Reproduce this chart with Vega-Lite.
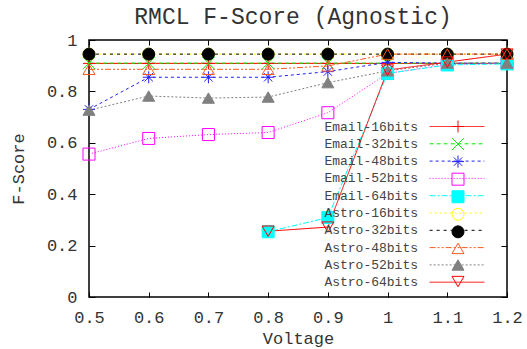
{
  "$schema": "https://vega.github.io/schema/vega-lite/v6.json",
  "width": 418,
  "height": 257,
  "autosize": "none",
  "padding": {"left": 89, "top": 40, "right": 20, "bottom": 52},
  "background": "white",
  "title": {"text": "RMCL F-Score (Agnostic)", "font": "Liberation Mono", "fontSize": 23, "fontWeight": "normal", "color": "#333333", "offset": 2, "anchor": "middle", "frame": "group", "dx": -5},
  "config": {"view": {"stroke": "#000000", "strokeWidth": 1.5}, "font": "Liberation Mono"},
  "data": {"values": [
    {"s": "Email-16bits", "v": 0.5, "f": 0.909}, {"s": "Email-16bits", "v": 0.6, "f": 0.909}, {"s": "Email-16bits", "v": 0.7, "f": 0.909}, {"s": "Email-16bits", "v": 0.8, "f": 0.909}, {"s": "Email-16bits", "v": 0.9, "f": 0.909}, {"s": "Email-16bits", "v": 1.0, "f": 0.909}, {"s": "Email-16bits", "v": 1.1, "f": 0.909}, {"s": "Email-16bits", "v": 1.2, "f": 0.909},
    {"s": "Email-32bits", "v": 0.5, "f": 0.91}, {"s": "Email-32bits", "v": 0.6, "f": 0.91}, {"s": "Email-32bits", "v": 0.7, "f": 0.91}, {"s": "Email-32bits", "v": 0.8, "f": 0.91}, {"s": "Email-32bits", "v": 0.9, "f": 0.91}, {"s": "Email-32bits", "v": 1.0, "f": 0.91}, {"s": "Email-32bits", "v": 1.1, "f": 0.91}, {"s": "Email-32bits", "v": 1.2, "f": 0.91},
    {"s": "Email-48bits", "v": 0.5, "f": 0.73}, {"s": "Email-48bits", "v": 0.6, "f": 0.855}, {"s": "Email-48bits", "v": 0.7, "f": 0.855}, {"s": "Email-48bits", "v": 0.8, "f": 0.855}, {"s": "Email-48bits", "v": 0.9, "f": 0.877}, {"s": "Email-48bits", "v": 1.0, "f": 0.913}, {"s": "Email-48bits", "v": 1.1, "f": 0.91}, {"s": "Email-48bits", "v": 1.2, "f": 0.91},
    {"s": "Email-52bits", "v": 0.5, "f": 0.556}, {"s": "Email-52bits", "v": 0.6, "f": 0.617}, {"s": "Email-52bits", "v": 0.7, "f": 0.632}, {"s": "Email-52bits", "v": 0.8, "f": 0.64}, {"s": "Email-52bits", "v": 0.9, "f": 0.717}, {"s": "Email-52bits", "v": 1.0, "f": 0.87}, {"s": "Email-52bits", "v": 1.1, "f": 0.905}, {"s": "Email-52bits", "v": 1.2, "f": 0.91},
    {"s": "Email-64bits", "v": 0.8, "f": 0.254}, {"s": "Email-64bits", "v": 0.9, "f": 0.309}, {"s": "Email-64bits", "v": 1.0, "f": 0.87}, {"s": "Email-64bits", "v": 1.1, "f": 0.903}, {"s": "Email-64bits", "v": 1.2, "f": 0.907},
    {"s": "Astro-16bits", "v": 0.5, "f": 0.945}, {"s": "Astro-16bits", "v": 0.6, "f": 0.945}, {"s": "Astro-16bits", "v": 0.7, "f": 0.945}, {"s": "Astro-16bits", "v": 0.8, "f": 0.945}, {"s": "Astro-16bits", "v": 0.9, "f": 0.945}, {"s": "Astro-16bits", "v": 1.0, "f": 0.945}, {"s": "Astro-16bits", "v": 1.1, "f": 0.945}, {"s": "Astro-16bits", "v": 1.2, "f": 0.945},
    {"s": "Astro-32bits", "v": 0.5, "f": 0.945}, {"s": "Astro-32bits", "v": 0.6, "f": 0.945}, {"s": "Astro-32bits", "v": 0.7, "f": 0.945}, {"s": "Astro-32bits", "v": 0.8, "f": 0.945}, {"s": "Astro-32bits", "v": 0.9, "f": 0.945}, {"s": "Astro-32bits", "v": 1.0, "f": 0.945}, {"s": "Astro-32bits", "v": 1.1, "f": 0.945}, {"s": "Astro-32bits", "v": 1.2, "f": 0.945},
    {"s": "Astro-48bits", "v": 0.5, "f": 0.886}, {"s": "Astro-48bits", "v": 0.6, "f": 0.886}, {"s": "Astro-48bits", "v": 0.7, "f": 0.886}, {"s": "Astro-48bits", "v": 0.8, "f": 0.886}, {"s": "Astro-48bits", "v": 0.9, "f": 0.899}, {"s": "Astro-48bits", "v": 1.0, "f": 0.945}, {"s": "Astro-48bits", "v": 1.1, "f": 0.945}, {"s": "Astro-48bits", "v": 1.2, "f": 0.945},
    {"s": "Astro-52bits", "v": 0.5, "f": 0.727}, {"s": "Astro-52bits", "v": 0.6, "f": 0.782}, {"s": "Astro-52bits", "v": 0.7, "f": 0.774}, {"s": "Astro-52bits", "v": 0.8, "f": 0.778}, {"s": "Astro-52bits", "v": 0.9, "f": 0.834}, {"s": "Astro-52bits", "v": 1.0, "f": 0.88}, {"s": "Astro-52bits", "v": 1.1, "f": 0.91}, {"s": "Astro-52bits", "v": 1.2, "f": 0.91},
    {"s": "Astro-64bits", "v": 0.8, "f": 0.256}, {"s": "Astro-64bits", "v": 0.9, "f": 0.272}, {"s": "Astro-64bits", "v": 1.0, "f": 0.883}, {"s": "Astro-64bits", "v": 1.1, "f": 0.914}, {"s": "Astro-64bits", "v": 1.2, "f": 0.945}
  ]},
  "layer": [
    {
      "mark": {"type": "line", "strokeWidth": 1},
      "encoding": {
        "x": {"field": "v", "type": "quantitative", "scale": {"domain": [0.5, 1.2], "nice": false, "zero": false},
          "axis": {"orient": "bottom", "values": [0.5, 0.6, 0.7, 0.8, 0.9, 1, 1.1, 1.2], "format": "~g", "grid": false, "domain": false, "tickSize": -5, "tickColor": "#000000", "tickWidth": 1, "labelPadding": 17, "labelFont": "Liberation Mono", "labelFontSize": 17, "labelColor": "#333333", "labelFlush": false, "labelOverlap": false, "title": "Voltage", "titleFont": "Liberation Mono", "titleFontSize": 17, "titleFontWeight": "normal", "titleColor": "#333333", "titleY": 46, "titleBaseline": "alphabetic"}},
        "y": {"field": "f", "type": "quantitative", "scale": {"domain": [0, 1], "nice": false, "zero": false},
          "axis": {"orient": "left", "values": [0, 0.2, 0.4, 0.6, 0.8, 1], "format": "~g", "grid": false, "domain": false, "tickSize": -6, "tickColor": "#000000", "tickWidth": 1, "labelPadding": 18, "labelFont": "Liberation Mono", "labelFontSize": 17, "labelColor": "#333333", "labelFlush": false, "labelOverlap": false, "title": "F-Score", "titleFont": "Liberation Mono", "titleFontSize": 17, "titleFontWeight": "normal", "titleColor": "#333333", "titleX": -66, "titleY": 128.5, "titleBaseline": "alphabetic", "titleAlign": "center", "titleAngle": -90}},
        "color": {"field": "s", "type": "nominal",
          "scale": {"domain": ["Email-16bits", "Email-32bits", "Email-48bits", "Email-52bits", "Email-64bits", "Astro-16bits", "Astro-32bits", "Astro-48bits", "Astro-52bits", "Astro-64bits"],
                    "range": ["#ff0000", "#00ee00", "#2020ff", "#ff00ff", "#00ffff", "#ffff00", "#000000", "#ff5a1e", "#808080", "#ff0000"]},
          "legend": {"orient": "none", "legendX": 361.5, "legendY": 80, "title": null, "padding": 0, "symbolType": "M-10,0H10", "symbolSize": 30, "symbolStrokeWidth": 1, "symbolOffset": 0, "labelFont": "Liberation Mono", "labelFontSize": 13, "labelColor": "#444444", "labelAlign": "right", "labelOffset": -45.5, "rowPadding": 3.3}},
        "strokeDash": {"field": "s", "type": "nominal",
          "scale": {"domain": ["Email-16bits", "Email-32bits", "Email-48bits", "Email-52bits", "Email-64bits", "Astro-16bits", "Astro-32bits", "Astro-48bits", "Astro-52bits", "Astro-64bits"],
                    "range": [[1, 0], [4, 3], [3, 3], [1, 2], [6, 2, 2, 2], [2, 3], [3, 4], [6, 2, 2, 2, 2, 2], [2, 2], [1, 0]]},
          "legend": {"orient": "none", "legendX": 361.5, "legendY": 80, "title": null, "padding": 0, "symbolType": "M-10,0H10", "symbolSize": 30, "symbolStrokeWidth": 1, "symbolOffset": 0, "labelFont": "Liberation Mono", "labelFontSize": 13, "labelColor": "#444444", "labelAlign": "right", "labelOffset": -45.5, "rowPadding": 3.3}}
      }
    },
    {
      "mark": {"type": "point", "size": 144, "strokeWidth": 1, "opacity": 1, "filled": true},
      "encoding": {
        "x": {"field": "v", "type": "quantitative",
          "axis": {"orient": "top", "values": [0.5, 0.6, 0.7, 0.8, 0.9, 1, 1.1, 1.2], "grid": false, "domain": false, "labels": false, "tickSize": -5, "tickColor": "#000000", "tickWidth": 1, "title": null}},
        "y": {"field": "f", "type": "quantitative",
          "axis": {"orient": "right", "values": [0, 0.2, 0.4, 0.6, 0.8, 1], "grid": false, "domain": false, "labels": false, "tickSize": -6, "tickColor": "#000000", "tickWidth": 1, "title": null}},
        "stroke": {"field": "s", "type": "nominal", "sort": null,
          "scale": {"range": ["#ff0000", "#00ee00", "#2020ff", "#ff00ff", "#00ffff", "#ffff00", "#000000", "#ff5a1e", "#808080", "#ff0000"]},
          "legend": {"orient": "none", "legendX": 361.5, "legendY": 79, "title": null, "padding": 0, "symbolSize": 144, "symbolStrokeWidth": 1, "symbolOffset": 0, "labelFont": "Liberation Mono", "labelFontSize": 15, "labelOpacity": 0, "labelAlign": "right", "labelOffset": -45.5, "rowPadding": 0.56}},
        "fill": {"field": "s", "type": "nominal", "sort": null,
          "scale": {"range": ["transparent", "transparent", "transparent", "transparent", "#00ffff", "transparent", "#000000", "transparent", "#808080", "transparent"]},
          "legend": {"orient": "none", "legendX": 361.5, "legendY": 79, "title": null, "padding": 0, "symbolSize": 144, "symbolStrokeWidth": 1, "symbolOffset": 0, "labelFont": "Liberation Mono", "labelFontSize": 15, "labelOpacity": 0, "labelAlign": "right", "labelOffset": -45.5, "rowPadding": 0.56}},
        "shape": {"field": "s", "type": "nominal", "sort": null,
          "scale": {"range": ["M-1,0H1M0,-1V1", "M-1,-1L1,1M-1,1L1,-1", "M-1,0H1M0,-1V1M-0.7,-0.7L0.7,0.7M-0.7,0.7L0.7,-0.7", "square", "square", "circle", "circle", "triangle-up", "triangle-up", "triangle-down"]},
          "legend": {"orient": "none", "legendX": 361.5, "legendY": 79, "title": null, "padding": 0, "symbolSize": 144, "symbolStrokeWidth": 1, "symbolOffset": 0, "labelFont": "Liberation Mono", "labelFontSize": 15, "labelOpacity": 0, "labelAlign": "right", "labelOffset": -45.5, "rowPadding": 0.56}}
      }
    }
  ],
  "resolve": {"axis": {"x": "independent", "y": "independent"}}
}
